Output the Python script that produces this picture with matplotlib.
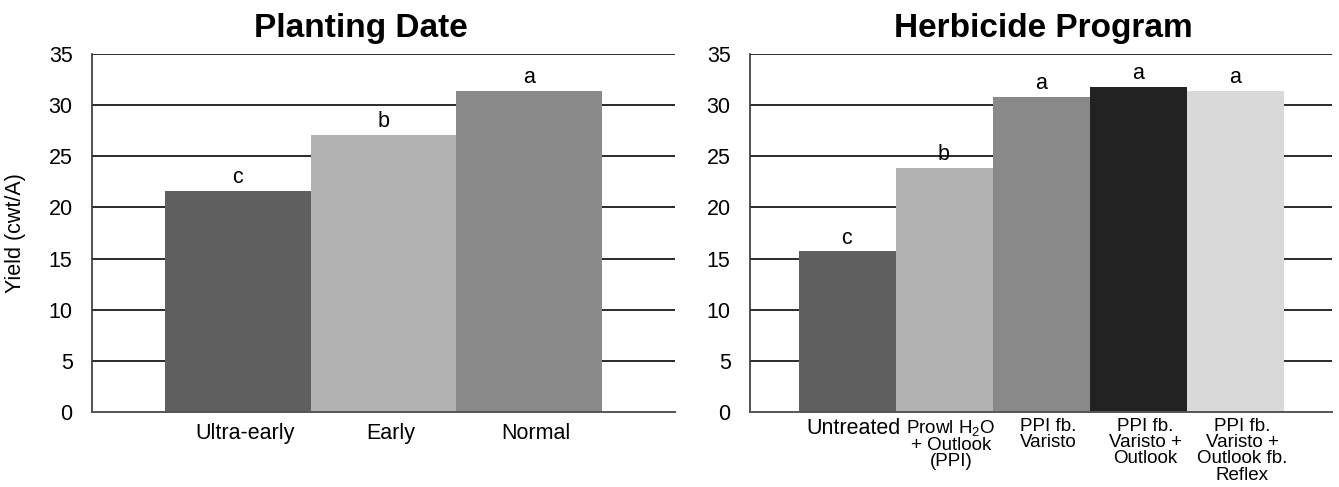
import matplotlib
matplotlib.use('Agg')
import matplotlib.pyplot as plt
import matplotlib.transforms as mtransforms

plt.rcParams['font.family'] = ['Liberation Sans', 'DejaVu Sans']
plt.rcParams['mathtext.default'] = 'regular'

# ------------------------------
# Данные
# ------------------------------
planting_labels = ['Ultra-early', 'Early', 'Normal']
planting_yield = [21.6, 27.1, 31.4]
planting_letters = ['c', 'b', 'a']
planting_colors = ['#5f5f5f', '#b2b2b2', '#898989']

herb_labels = ['Untreated', 'Prowl H$_2$O\n+ Outlook\n(PPI)', 'PPI fb.\nVaristo',
               'PPI fb.\nVaristo +\nOutlook', 'PPI fb.\nVaristo +\nOutlook fb.\nReflex']
herb_yield = [15.7, 23.9, 30.8, 31.75, 31.4]
herb_letters = ['c', 'b', 'a', 'a', 'a']
herb_colors = ['#5f5f5f', '#b2b2b2', '#898989', '#222222', '#d9d9d9']

W, H = 1339, 487
fig = plt.figure(figsize=(W / 100, H / 100), dpi=100)

ax1 = fig.add_axes([92 / W, 75 / H, 583 / W, 358 / H])
ax2 = fig.add_axes([750 / W, 75 / H, 582 / W, 358 / H])


def style_axis(ax, n):
    ax.set_ylim(0, 35)
    ax.set_xlim(-1, n)
    ax.set_yticks(range(0, 36, 5))
    for y in range(5, 36, 5):
        ax.axhline(y, color='#1a1a1a', lw=1.3, zorder=1)
    for s in ['top', 'right']:
        ax.spines[s].set_visible(False)
    ax.spines['left'].set_color('#333333')
    ax.spines['bottom'].set_color('#555555')
    ax.spines['left'].set_linewidth(1.2)
    ax.spines['bottom'].set_linewidth(1.4)
    ax.tick_params(axis='y', length=0, pad=14, labelsize=15.5)
    ax.tick_params(axis='x', length=0)


def draw_bars(ax, values, letters, colors):
    x = list(range(len(values)))
    ax.bar(x, values, width=1.0, color=colors, zorder=2)
    for xi, v, t in zip(x, values, letters):
        ax.annotate(t, (xi, v), xytext=(0, 2), textcoords='offset points',
                    ha='center', va='bottom', fontsize=15.5, zorder=3)


style_axis(ax1, 3)
draw_bars(ax1, planting_yield, planting_letters, planting_colors)
ax1.set_xticks(range(len(planting_labels)))
ax1.set_xticklabels(planting_labels, fontsize=15.5)
ax1.tick_params(axis='x', pad=8)
ax1.set_ylabel('Yield (cwt/A)', fontsize=15.5, labelpad=16)

style_axis(ax2, 5)
draw_bars(ax2, herb_yield, herb_letters, herb_colors)
ax2.set_xticks(range(len(herb_labels)))
ax2.set_xticklabels(herb_labels, fontsize=13.5, linespacing=0.95, va='top')
ax2.get_xticklabels()[0].set_fontsize(15.5)
ax2.tick_params(axis='x', pad=4)

# смещение подписей вправо, как в исходнике
shift = mtransforms.ScaledTranslation(7 / 100, 0, fig.dpi_scale_trans)
for ax in (ax1, ax2):
    for lab in ax.get_xticklabels():
        lab.set_transform(lab.get_transform() + shift)

fig.text(361 / W, 1 - 29 / H, 'Planting Date', ha='center', va='center',
         fontsize=24, fontweight='bold')
fig.text(1043 / W, 1 - 29 / H, 'Herbicide Program', ha='center', va='center',
         fontsize=24, fontweight='bold')

fig.savefig('out.png', dpi=100)
